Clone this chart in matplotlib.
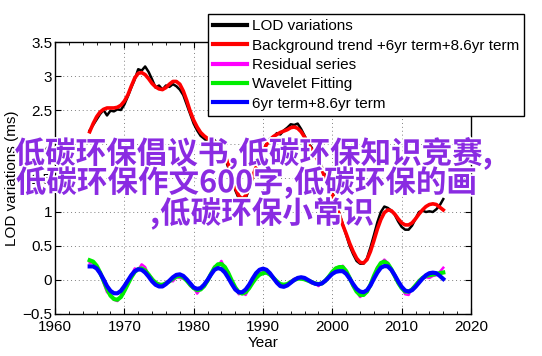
import matplotlib
matplotlib.use('Agg')
import matplotlib.pyplot as plt
import matplotlib.patheffects as pe
from matplotlib.ticker import MultipleLocator
import numpy as np

# half-year samples, 1965.0 .. 2016.0
years = np.arange(1965, 2016.01, 0.5)

lod = [2.20, 2.28, 2.36, 2.44, 2.50, 2.42, 2.49, 2.48, 2.51, 2.50,
       2.58, 2.70, 2.83, 2.95, 3.10, 3.08, 3.14, 3.06, 2.95, 2.83,
       2.86, 2.80, 2.86, 2.84, 2.88, 2.85, 2.80, 2.72, 2.58, 2.44,
       2.30, 2.20, 2.12, 2.08, 2.03, 2.05, 2.06, 1.98, 1.92, 1.80,
       1.65, 1.48, 1.32, 1.20, 1.15, 1.20, 1.34, 1.50, 1.65, 1.80,
       1.92, 2.00, 2.08, 2.10, 2.16, 2.14, 2.20, 2.24, 2.29, 2.28,
       2.30, 2.22, 2.12, 2.02, 1.95, 1.86, 1.78, 1.66, 1.52, 1.40,
       1.29, 1.14, 0.98, 0.82, 0.66, 0.50, 0.38, 0.28, 0.24, 0.24,
       0.32, 0.48, 0.66, 0.85, 1.00, 1.08, 1.06, 1.02, 0.96, 0.86,
       0.78, 0.74, 0.74, 0.80, 0.90, 1.00, 1.02, 1.00, 1.01, 1.00,
       1.04, 1.10, 1.19]

trend = [2.18, 2.30, 2.40, 2.47, 2.51, 2.53, 2.53, 2.53, 2.54, 2.57,
         2.63, 2.72, 2.85, 2.97, 3.04, 3.05, 3.02, 2.96, 2.89, 2.84,
         2.81, 2.80, 2.83, 2.88, 2.92, 2.92, 2.88, 2.78, 2.64, 2.48,
         2.35, 2.25, 2.17, 2.12, 2.08, 2.05, 2.03, 2.00, 1.94, 1.84,
         1.70, 1.52, 1.36, 1.24, 1.19, 1.24, 1.36, 1.52, 1.66, 1.79,
         1.90, 1.99, 2.06, 2.11, 2.14, 2.17, 2.19, 2.21, 2.24, 2.25,
         2.23, 2.18, 2.10, 2.00, 1.92, 1.84, 1.74, 1.62, 1.49, 1.38,
         1.26, 1.11, 0.96, 0.81, 0.68, 0.54, 0.42, 0.32, 0.26, 0.25,
         0.30, 0.42, 0.58, 0.75, 0.89, 0.99, 1.03, 1.02, 0.97, 0.90,
         0.84, 0.81, 0.81, 0.84, 0.90, 0.97, 1.03, 1.08, 1.11, 1.12,
         1.11, 1.07, 1.03]

residual = [0.25, 0.26, 0.20, 0.12, -0.04, -0.18, -0.22, -0.29, -0.31, -0.24,
            -0.15, -0.04, 0.07, 0.17, 0.15, 0.23, 0.19, 0.07, 0.03, -0.06,
            -0.05, -0.09, -0.03, -0.01, -0.02, 0.04, 0.03, 0.02, 0.00, -0.09,
            -0.11, -0.20, -0.13, -0.10, 0.01, 0.07, 0.20, 0.21, 0.28, 0.17,
            0.12, -0.02, -0.10, -0.21, -0.19, -0.22, -0.11, -0.05, 0.05, 0.07,
            0.12, 0.10, 0.09, 0.01, -0.03, -0.08, -0.06, -0.08, -0.02, 0.02,
            0.01, 0.04, 0.00, 0.00, -0.05, -0.04, -0.09, -0.04, -0.02, 0.06,
            0.10, 0.18, 0.17, 0.21, 0.11, 0.05, -0.10, -0.16, -0.25, -0.21,
            -0.18, -0.05, 0.04, 0.19, 0.24, 0.30, 0.25, 0.14, 0.08, -0.06,
            -0.11, -0.21, -0.22, -0.12, -0.09, 0.00, 0.02, 0.04, 0.03, 0.06,
            0.07, 0.12, 0.18]

wavelet = [0.29, 0.27, 0.21, 0.11, -0.01, -0.13, -0.23, -0.28, -0.29, -0.25,
           -0.16, -0.06, 0.04, 0.12, 0.16, 0.17, 0.14, 0.08, 0.01, -0.04,
           -0.07, -0.07, -0.05, -0.02, 0.02, 0.05, 0.06, 0.04, -0.01, -0.07,
           -0.12, -0.15, -0.14, -0.09, -0.01, 0.09, 0.18, 0.23, 0.235, 0.19,
           0.10, -0.01, -0.11, -0.18, -0.20, -0.18, -0.12, -0.04, 0.03, 0.08,
           0.10, 0.11, 0.08, 0.03, -0.02, -0.06, -0.07, -0.06, -0.03, 0.00,
           0.02, 0.02, 0.01, -0.01, -0.03, -0.05, -0.06, -0.05, -0.01, 0.05,
           0.12, 0.17, 0.19, 0.19, 0.13, 0.03, -0.08, -0.17, -0.22, -0.22,
           -0.17, -0.07, 0.06, 0.17, 0.25, 0.27, 0.24, 0.16, 0.06, -0.04,
           -0.12, -0.17, -0.17, -0.14, -0.08, -0.02, 0.03, 0.06, 0.07, 0.08,
           0.09, 0.10, 0.11]

terms = [0.20, 0.20, 0.17, 0.10, 0.01, -0.09, -0.16, -0.195, -0.196, -0.16,
         -0.09, -0.01, 0.07, 0.13, 0.157, 0.15, 0.11, 0.05, -0.02, -0.07,
         -0.095, -0.095, -0.06, -0.01, 0.04, 0.075, 0.083, 0.06, 0.01, -0.05,
         -0.11, -0.13, -0.12, -0.07, 0.00, 0.08, 0.15, 0.175, 0.16, 0.11,
         0.03, -0.06, -0.14, -0.18, -0.18, -0.14, -0.07, 0.02, 0.10, 0.15,
         0.167, 0.15, 0.10, 0.03, -0.04, -0.09, -0.10, -0.08, -0.04, 0.00,
         0.03, 0.04, 0.03, 0.00, -0.03, -0.055, -0.064, -0.05, -0.01, 0.04,
         0.09, 0.12, 0.13, 0.13, 0.09, 0.02, -0.06, -0.13, -0.17, -0.18,
         -0.15, -0.08, 0.02, 0.11, 0.18, 0.205, 0.20, 0.15, 0.07, -0.02,
         -0.10, -0.155, -0.17, -0.15, -0.10, -0.04, 0.02, 0.07, 0.10, 0.108,
         0.10, 0.06, 0.015]

labels = ['LOD variations', 'Background trend +6yr term+8.6yr term',
          'Residual series', 'Wavelet Fitting', '6yr term+8.6yr term']

overlay = ['低碳环保倡议书,低碳环保知识竞赛,',
           '低碳环保作文600字,低碳环保的画',
           ',低碳环保小常识']

plt.rcParams['font.family'] = ['Liberation Sans', 'DejaVu Sans']
plt.rcParams['font.size'] = 11

fig = plt.figure(figsize=(5.42, 3.56), dpi=100)
ax = fig.add_axes([0.1015, 0.118, 0.7675, 0.764])

l1, = ax.plot(years, lod, color='black', lw=1.8)
l2, = ax.plot(years, trend, color='red', lw=2.6)
l3, = ax.plot(years, residual, color='magenta', lw=1.8)
l4, = ax.plot(years, wavelet, color='#00ee00', lw=3.0)
l5, = ax.plot(years, terms, color='blue', lw=3.0)

ax.set_xlim(1960, 2020)
ax.set_ylim(-0.5, 3.5)
ax.xaxis.set_major_locator(MultipleLocator(10))
ax.xaxis.set_minor_locator(MultipleLocator(2))
ax.yaxis.set_major_locator(MultipleLocator(0.5))
ax.tick_params(which='both', direction='in', top=True, right=True)
ax.tick_params(which='major', length=4, pad=2)
ax.tick_params(axis='x', which='major', pad=4)
ax.tick_params(which='minor', length=2)
ax.set_yticklabels(['\u22120.5' if t < 0 else ('%g' % t) for t in ax.get_yticks()])
ax.grid(True, which='major', linestyle=(0, (1, 3)), color='gray', lw=0.7)
for s in ax.spines.values():
    s.set_linewidth(1.0)

ax.set_xlabel('Year', labelpad=2)
ax.set_ylabel('LOD variations (ms)', labelpad=2)

leg = fig.legend([l1, l2, l3, l4, l5], labels, loc='upper left',
                 bbox_to_anchor=(0.384, 0.961), borderaxespad=0,
                 fancybox=False, framealpha=1, edgecolor='black',
                 handlelength=2.2, handletextpad=0.3, labelspacing=0.35,
                 borderpad=0.35, fontsize=11)
leg.get_frame().set_linewidth(1.0)
for h in leg.legend_handles:
    h.set_linewidth(3)

ys = [0.568, 0.487, 0.400]
xs = [0.467, 0.454, 0.483]
for txt, x, y in zip(overlay, xs, ys):
    fig.text(x, y, txt, ha='center', va='center', fontsize=22,
             color='#8a2be2', fontweight='bold',
             family=['Noto Sans CJK SC', 'DejaVu Sans'],
             path_effects=[pe.withStroke(linewidth=2.5, foreground='white')])

fig.savefig('out.png', dpi=100)
